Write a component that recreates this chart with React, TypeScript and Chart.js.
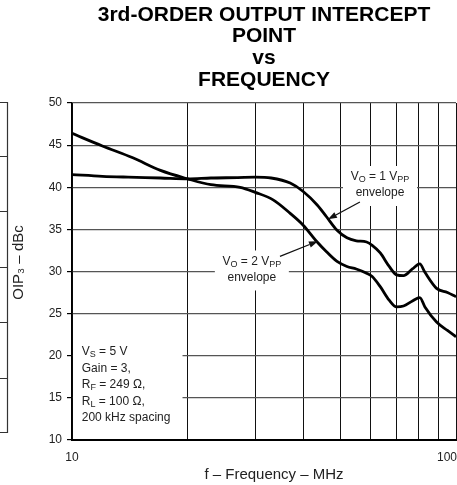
import React, { useEffect, useRef } from "react";
import { Chart, registerables } from "chart.js";

Chart.register(...registerables);

// ---------- text ----------
const TITLE_LINES = ["3rd-ORDER OUTPUT INTERCEPT", "POINT", "vs", "FREQUENCY"];
const X_TITLE = "f – Frequency – MHz";
const Y_TITLE = "OIP₃ – dBc";
const X_TICK_LABELS = [10, 100];
const X_GRID_VALUES = [10, 20, 30, 40, 50, 60, 70, 80, 90, 100];
const CONDITIONS = ["V_{S} = 5 V", "Gain = 3,", "R_{F} = 249 Ω,", "R_{L} = 100 Ω,", "200 kHz spacing"];
const LABEL_1VPP = ["V_{O} = 1 V_{PP}", "envelope"];
const LABEL_2VPP = ["V_{O} = 2 V_{PP}", "envelope"];

// ---------- axes ----------
const X_MIN = 10;
const X_MAX = 100;
const Y_MIN = 10;
const Y_MAX = 50;
const Y_STEP = 5;

// ---------- data (MHz, dBc) ----------
const FREQ_1VPP = [10, 12, 14, 17, 20, 23, 27, 30, 33, 37, 40, 43.5, 46, 49, 52, 55, 58.5, 60.5, 63.5, 67, 70, 73, 77, 80.5, 83, 89, 95, 100];
const OIP3_1VPP = [41.5, 41.3, 41.2, 41.1, 41.0, 41.1, 41.15, 41.2, 41.1, 40.5, 39.5, 37.9, 36.5, 34.9, 34.0, 33.65, 33.5, 33.1, 32.2, 30.6, 29.6, 29.5, 30.3, 30.9, 29.9, 28.0, 27.5, 27.0];

const FREQ_2VPP = [10, 12, 14.4, 17, 20, 23, 27.4, 30, 33.4, 37, 40, 43.5, 46, 49, 52, 55, 58.5, 60.5, 63.5, 67, 70, 73, 77, 80.5, 83, 89, 95, 100];
const OIP3_2VPP = [46.4, 44.9, 43.5, 42.0, 41.0, 40.3, 40.0, 39.4, 38.5, 36.9, 35.5, 33.5, 32.35, 31.2, 30.6, 30.3, 29.8, 29.4, 28.2, 26.6, 25.8, 25.9, 26.5, 26.9, 25.8, 24.0, 23.0, 22.25];

// ---------- annotation placement (data coordinates) ----------
const CALLOUTS = [
  { lines: LABEL_1VPP, at: [63.4, 40.27], from: [56.2, 38.25], to: [46.4, 36.2] },
  { lines: LABEL_2VPP, at: [29.4, 30.24], from: [34.8, 31.8], to: [43.7, 33.6] },
];
const COND_TEXT_AT = [10.6, 20.45];
const COND_BOX = { right: 19.4, top: 22.1, bottom: 10.95 };

const FONT = "'Liberation Sans', Arial, Helvetica, sans-serif";
const TEXT_COLOR = "#222";

function parseRich(text: string) {
  const parts: { t: string; sub: boolean }[] = [];
  const re = /_\{([^}]*)\}/g;
  let last = 0;
  let m: RegExpExecArray | null;
  while ((m = re.exec(text))) {
    if (m.index > last) parts.push({ t: text.slice(last, m.index), sub: false });
    parts.push({ t: m[1], sub: true });
    last = m.index + m[0].length;
  }
  if (last < text.length) parts.push({ t: text.slice(last), sub: false });
  return parts;
}

function drawRich(ctx: CanvasRenderingContext2D, text: string, x: number, y: number, align: "left" | "center", size = 12) {
  const parts = parseRich(text);
  const subSize = Math.round(size * 0.75);
  let total = 0;
  const widths = parts.map((p) => {
    ctx.font = `${p.sub ? subSize : size}px ${FONT}`;
    const w = ctx.measureText(p.t).width;
    total += w;
    return w;
  });
  let cx = align === "center" ? x - total / 2 : x;
  ctx.textAlign = "left";
  ctx.textBaseline = "middle";
  parts.forEach((p, i) => {
    ctx.font = `${p.sub ? subSize : size}px ${FONT}`;
    ctx.fillText(p.t, cx, p.sub ? y + 3 : y);
    cx += widths[i];
  });
}

function drawArrow(ctx: CanvasRenderingContext2D, x0: number, y0: number, x1: number, y1: number) {
  const ang = Math.atan2(y1 - y0, x1 - x0);
  const len = 9;
  const hw = 3.2;
  const bx = x1 - len * Math.cos(ang);
  const by = y1 - len * Math.sin(ang);
  ctx.strokeStyle = "#111";
  ctx.lineWidth = 1.3;
  ctx.beginPath();
  ctx.moveTo(x0, y0);
  ctx.lineTo(bx, by);
  ctx.stroke();
  ctx.fillStyle = "#111";
  ctx.beginPath();
  ctx.moveTo(x1, y1);
  ctx.lineTo(bx + hw * Math.sin(ang), by - hw * Math.cos(ang));
  ctx.lineTo(bx - hw * Math.sin(ang), by + hw * Math.cos(ang));
  ctx.closePath();
  ctx.fill();
}

const overlayPlugin = {
  id: "overlay",
  beforeDatasetsDraw(chart: any) {
    const { ctx, chartArea } = chart;
    const x = chart.scales.x;
    const y = chart.scales.y;
    ctx.save();
    ctx.fillStyle = "#fff";
    const l = chartArea.left + 1;
    const t = y.getPixelForValue(COND_BOX.top);
    ctx.fillRect(l, t, x.getPixelForValue(COND_BOX.right) - l, y.getPixelForValue(COND_BOX.bottom) - t);
    CALLOUTS.forEach((c) => {
      const cx = x.getPixelForValue(c.at[0]);
      const cy = y.getPixelForValue(c.at[1]);
      ctx.fillRect(cx - 37, cy - 19, 74, 40);
    });
    ctx.restore();
  },
  afterDatasetsDraw(chart: any) {
    const { ctx } = chart;
    const x = chart.scales.x;
    const y = chart.scales.y;
    ctx.save();
    CALLOUTS.forEach((c) => {
      const cx = x.getPixelForValue(c.at[0]);
      const cy = y.getPixelForValue(c.at[1]);
      ctx.fillStyle = TEXT_COLOR;
      drawRich(ctx, c.lines[0], cx, cy - 8, "center");
      drawRich(ctx, c.lines[1], cx, cy + 8, "center");
      drawArrow(ctx, x.getPixelForValue(c.from[0]), y.getPixelForValue(c.from[1]), x.getPixelForValue(c.to[0]), y.getPixelForValue(c.to[1]));
    });
    ctx.fillStyle = TEXT_COLOR;
    const tx = x.getPixelForValue(COND_TEXT_AT[0]);
    const ty = y.getPixelForValue(COND_TEXT_AT[1]);
    CONDITIONS.forEach((line, i) => drawRich(ctx, line, tx, ty + i * 16.5, "left"));
    ctx.restore();
  },
  afterDraw(chart: any) {
    const { ctx, chartArea } = chart;
    const x = chart.scales.x;
    ctx.save();
    ctx.fillStyle = TEXT_COLOR;
    ctx.textBaseline = "middle";
    ctx.font = `12px ${FONT}`;
    X_TICK_LABELS.forEach((v, i) => {
      const last = i === X_TICK_LABELS.length - 1;
      ctx.textAlign = last ? "right" : "center";
      ctx.fillText(String(v), x.getPixelForValue(v) + (last ? 1 : 0), chartArea.bottom + 18);
    });
    ctx.font = `15px ${FONT}`;
    ctx.textAlign = "center";
    ctx.fillText(X_TITLE, (chartArea.left + chartArea.right) / 2 + 10, chartArea.bottom + 35);
    ctx.translate(19, (chartArea.top + chartArea.bottom) / 2 - 9);
    ctx.rotate(-Math.PI / 2);
    ctx.fillText(Y_TITLE, 0, 0);
    ctx.restore();

    // fragment of the neighbouring panel at the left edge of the crop
    ctx.save();
    ctx.strokeStyle = "#333";
    ctx.lineWidth = 1.2;
    ctx.beginPath();
    ctx.moveTo(7.5, 102);
    ctx.lineTo(7.5, 433);
    [102, 156, 211, 267, 322, 378, 432].forEach((yy) => {
      ctx.moveTo(0, yy + 0.5);
      ctx.lineTo(7.5, yy + 0.5);
    });
    ctx.stroke();
    ctx.restore();
  },
};

export default function App() {
  const ref = useRef<HTMLCanvasElement | null>(null);

  useEffect(() => {
    if (!ref.current) return;
    const chart = new Chart(ref.current, {
      type: "line",
      data: {
        datasets: [
          {
            label: "VO = 1 VPP envelope",
            data: FREQ_1VPP.map((f, i) => ({ x: f, y: OIP3_1VPP[i] })),
            borderColor: "#000",
            borderWidth: 2.8,
            pointRadius: 0,
            fill: false,
            cubicInterpolationMode: "monotone",
          },
          {
            label: "VO = 2 VPP envelope",
            data: FREQ_2VPP.map((f, i) => ({ x: f, y: OIP3_2VPP[i] })),
            borderColor: "#000",
            borderWidth: 2.8,
            pointRadius: 0,
            fill: false,
            cubicInterpolationMode: "monotone",
          },
        ],
      },
      options: {
        responsive: false,
        animation: false,
        devicePixelRatio: 1,
        layout: { padding: { left: 0, right: 1, top: 0, bottom: 0 } },
        plugins: {
          legend: { display: false },
          tooltip: { enabled: false },
          title: {
            display: true,
            text: TITLE_LINES,
            fullSize: false,
            color: "#000",
            font: { family: FONT, size: 21, weight: "bold", lineHeight: 1.03 },
            padding: { top: 4, bottom: 12.5 },
          },
        },
        scales: {
          x: {
            type: "logarithmic",
            min: X_MIN,
            max: X_MAX,
            afterBuildTicks: (s: any) => {
              s.ticks = X_GRID_VALUES.map((v) => ({ value: v }));
            },
            ticks: { display: false },
            grid: { color: "#111", lineWidth: 1, drawTicks: false },
            border: { display: true, color: "#000", width: 2 },
            afterFit: (s: any) => {
              s.height = 45;
              s.paddingLeft = 0;
              s.paddingRight = 0;
            },
          },
          y: {
            min: Y_MIN,
            max: Y_MAX,
            ticks: { stepSize: Y_STEP, color: TEXT_COLOR, font: { family: FONT, size: 12 }, padding: 5 },
            grid: { color: "#555", lineWidth: 1.2, tickLength: 5, tickColor: "#000" },
            border: { display: true, color: "#000", width: 1.5 },
            afterFit: (s: any) => {
              s.width = 72;
            },
          },
        },
      },
      plugins: [overlayPlugin],
    } as any);
    return () => chart.destroy();
  }, []);

  return (
    <div style={{ position: "absolute", left: 0, top: 0, width: 457, height: 485, background: "#fff" }}>
      <canvas ref={ref} width={457} height={485} style={{ display: "block" }} />
    </div>
  );
}
